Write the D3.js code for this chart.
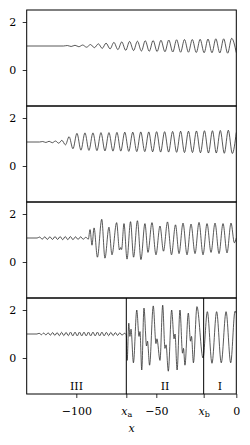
<!DOCTYPE html>
<html>
<head>
<meta charset="utf-8">
<script src="https://cdn.jsdelivr.net/npm/d3@7"></script>
<style>
  body { margin: 0; background: #fff; }
  svg { display: block; }
  .axis path { display: none; }
  .axis line { stroke: #000; stroke-width: 0.8; }
  .axis text { font-family: "DejaVu Serif", "Liberation Serif", serif; font-size: 11px; fill: #000; }
  .frame { fill: none; stroke: #000; stroke-width: 1; }
  .curve { fill: none; stroke: #222; stroke-width: 0.75; }
  .lbl { font-family: "DejaVu Serif", "Liberation Serif", serif; font-size: 11px; fill: #000; }
</style>
</head>
<body>
<div id="chart"></div>
<script>
'use strict';

// boundaries of the three regions (data units)
var xa = -68.75;
var xb = -20.4;

var xTickValues = [-100, xa, -50, xb, 0];
var xTickLabels = ["\u2212100", "x|a", "\u221250", "x|b", "0"];
var yTickValues = [0, 2];
var regionNames = ["III", "II", "I"];
var regionEdges = [-131, xa, xb, 0];

// extrema, [x, u]
var panel1 = [[-131,1],[-108,1],
  [-105.6,1.02],[-103.2,0.98],[-100.8,1.03],[-98.4,0.97],[-96,1.04],[-93.6,0.95],[-91.1,1.06],[-88.7,0.93],
  [-86.2,1.09],[-83.8,0.9],[-81.4,1.12],[-78.9,0.88],[-76.5,1.15],[-74,0.85],[-71.6,1.17],[-69.1,0.82],
  [-66.7,1.19],[-64.2,0.81],[-61.8,1.2],[-59.3,0.79],[-56.9,1.22],[-54.4,0.78],[-52,1.23],[-49.5,0.77],
  [-47.1,1.24],[-44.6,0.76],[-42.2,1.25],[-39.7,0.75],[-37.3,1.26],[-34.8,0.74],[-32.4,1.27],[-29.9,0.74],
  [-27.5,1.27],[-25,0.73],[-22.6,1.28],[-20.1,0.72],[-17.7,1.29],[-15.2,0.72],[-12.8,1.3],[-10.3,0.71],
  [-7.9,1.3],[-5.4,0.7],[-2.9,1.32],[0,0.72]];

var panel2 = [[-131,1],[-123,1],
  [-121,1.02],[-119,0.98],[-117,1.03],[-115,0.97],[-113,1.04],[-111,0.95],[-109,1.07],[-106.8,0.88],
  [-104.5,1.22],[-102.1,0.72],[-99.6,1.36],[-97.1,0.66],[-94.6,1.38],[-92.1,0.65],[-89.6,1.38],[-87.1,0.64],
  [-84.6,1.39],[-82.1,0.63],[-79.6,1.39],[-77.1,0.62],[-74.6,1.4],[-72.2,0.62],[-69.7,1.41],[-67.2,0.61],
  [-64.7,1.41],[-62.2,0.6],[-59.7,1.42],[-57.2,0.6],[-54.7,1.42],[-52.3,0.59],[-49.8,1.43],[-47.3,0.58],
  [-44.8,1.43],[-42.3,0.58],[-39.8,1.44],[-37.3,0.57],[-34.8,1.45],[-32.4,0.56],[-29.9,1.45],[-27.4,0.56],
  [-24.9,1.46],[-22.4,0.55],[-19.9,1.47],[-17.4,0.54],[-14.9,1.47],[-12.5,0.54],[-10,1.48],[-7.5,0.53],
  [-5,1.49],[-2.5,0.52],[0,1.4]];

var panel3 = [[-131,1],[-124.5,1],
  [-122.9,1.04],[-121.3,0.95],[-119.7,1.05],[-118.1,0.94],[-116.5,1.05],[-114.9,0.94],[-113.3,1.06],[-111.7,0.94],
  [-110.1,1.06],[-108.5,0.93],[-106.9,1.06],[-105.3,0.93],[-103.7,1.06],[-102.1,0.93],[-100.5,1.05],[-98.9,0.94],
  [-97.3,1.05],[-95.7,0.95],[-94,1.03],[-92.5,0.95],
  [-91.4,1.35],[-90.2,0.7],[-88.9,1.42],[-86.8,0.2],[-84.1,1.78],[-82.1,0.16],[-79.6,1.45],[-77.7,0.3],
  [-74.8,1.64],[-73,0.5],[-72.3,0.6],[-71.7,0.52],[-70.2,1.6],[-68.3,0.12],[-66.1,1.68],[-64.2,0.2],
  [-61.8,1.72],[-59.6,0.1],[-57.1,1.6],[-55.2,0.4],[-52.7,1.64],[-50.2,0.3],[-47.7,1.5],[-45.5,0.45],
  [-43,1.67],[-40.5,0.3],[-38,1.55],[-35.8,0.35],[-33.3,1.62],[-30.8,0.3],[-28.3,1.58],[-25.8,0.35],
  [-23.3,1.65],[-20.8,0.3],[-18.3,1.6],[-15.8,0.4],[-13.3,1.62],[-10.8,0.35],[-8.3,1.6],[-5.8,0.38],
  [-3.3,1.62],[-1.2,0.8],[0,1.0]];

var panel4 = [[-131,1],[-124.6,1],
  [-123.2,1.03],[-121.8,0.97],[-120.4,1.04],[-119,0.96],[-117.6,1.05],[-116.2,0.95],[-114.8,1.06],[-113.4,0.94],
  [-112,1.06],[-110.6,0.93],[-109.2,1.07],[-107.8,0.93],[-106.4,1.07],[-105,0.93],[-103.6,1.08],[-102.2,0.92],
  [-100.8,1.08],[-99.4,0.92],[-98,1.08],[-96.6,0.92],[-95.2,1.08],[-93.8,0.92],[-92.4,1.08],[-91,0.92],
  [-89.6,1.08],[-88.2,0.92],[-86.8,1.08],[-85.4,0.92],[-84,1.08],[-82.6,0.92],[-81.2,1.07],[-79.8,0.93],
  [-78.4,1.07],[-77,0.93],[-75.6,1.06],[-74.2,0.94],[-72.8,1.05],[-71.4,0.95],[-70,1.03],[-68.75,0.97],
  [-68.2,-0.1],[-67.2,1.45],[-66.5,0.9],[-65.8,1.2],[-64.3,-0.2],[-62.2,2.0],[-60.8,0.9],[-60.2,1.1],
  [-59.1,-0.5],[-57.7,2.08],[-56.1,0.5],[-55.5,0.7],[-54.2,-0.3],[-51.9,2.17],[-50.2,0.6],[-49.6,0.8],
  [-47.7,-0.1],[-46,2.2],[-44.6,0.4],[-43.9,0.55],[-42.5,-0.55],[-40.4,2.0],[-38.9,0.8],[-38.3,1.0],
  [-37,-0.5],[-35.2,2.0],[-33.6,0.2],[-33,0.4],[-32.1,-0.3],[-30,1.87],[-28.6,0.7],[-28,0.9],
  [-26.8,-0.2],[-24.6,2.14],[-20.8,0.0],
  [-18.1,1.93],[-15.2,-0.22],[-12.3,1.93],[-9.4,-0.2],[-6.4,1.93],[-3.5,-0.2],[-0.8,1.95],[0,1.85]];

var panels = [panel1, panel2, panel3, panel4];

var W = 250, H = 445;
var plotLeft = 26.7, plotRight = 236.3, plotTop = 10, panelH = 96;

var svg = d3.select("#chart").append("svg")
    .attr("width", W)
    .attr("height", H);

var x = d3.scaleLinear().domain([-131, 0]).range([plotLeft, plotRight]);

var line = d3.line()
    .x(function(d) { return x(d[0]); })
    .curve(d3.curveMonotoneX);

panels.forEach(function(data, i) {
    var y0 = plotTop + i * panelH;
    var y = d3.scaleLinear().domain([-1.5, 2.5]).range([y0 + panelH, y0]);

    svg.append("clipPath")
        .attr("id", "clip" + i)
        .append("rect")
        .attr("x", plotLeft).attr("y", y0)
        .attr("width", plotRight - plotLeft).attr("height", panelH);

    svg.append("path")
        .datum(data)
        .attr("class", "curve")
        .attr("clip-path", "url(#clip" + i + ")")
        .attr("d", line.y(function(d) { return y(d[1]); }));

    svg.append("g")
        .attr("class", "axis")
        .attr("transform", "translate(" + plotLeft + ",0)")
        .call(d3.axisLeft(y).tickValues(yTickValues).tickSize(4).tickPadding(6.5).tickFormat(d3.format("d")));

    if (i === 3) {
        // region boundaries
        [xa, xb].forEach(function(v) {
            svg.append("line")
                .attr("x1", x(v)).attr("x2", x(v))
                .attr("y1", y0).attr("y2", y0 + panelH)
                .attr("stroke", "#000").attr("stroke-width", 1);
        });
        regionNames.forEach(function(name, k) {
            svg.append("text")
                .attr("class", "lbl")
                .attr("x", x((regionEdges[k] + regionEdges[k + 1]) / 2))
                .attr("y", y0 + panelH - 4)
                .attr("text-anchor", "middle")
                .text(name);
        });

        var xAxis = svg.append("g")
            .attr("class", "axis")
            .attr("transform", "translate(0," + (y0 + panelH) + ")")
            .call(d3.axisBottom(x).tickValues(xTickValues).tickSize(4).tickPadding(9)
                .tickFormat(function() { return ""; }));

        xAxis.selectAll(".tick text").each(function(d, k) {
            var t = d3.select(this);
            var parts = xTickLabels[k].split("|");
            t.append("tspan").style("font-style", parts.length > 1 ? "italic" : null).text(parts[0]);
            if (parts.length > 1) {
                t.append("tspan").attr("dy", 2.5).style("font-size", "8px").text(parts[1]);
            }
        });
    }

    svg.append("rect")
        .attr("class", "frame")
        .attr("x", plotLeft).attr("y", y0)
        .attr("width", plotRight - plotLeft).attr("height", panelH);
});

svg.append("text")
    .attr("class", "lbl")
    .attr("x", (plotLeft + plotRight) / 2)
    .attr("y", 432)
    .attr("text-anchor", "middle")
    .style("font-style", "italic")
    .text("x");
</script>
</body>
</html>
